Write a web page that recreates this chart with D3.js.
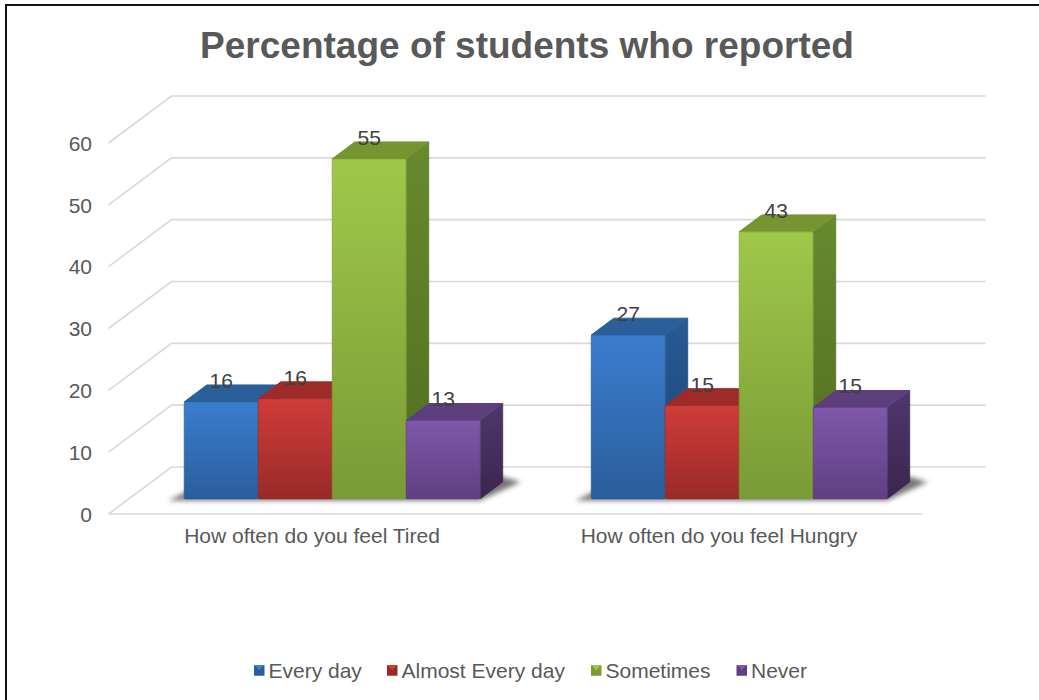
<!DOCTYPE html>
<html>
<head>
<meta charset="utf-8">
<script src="https://cdnjs.cloudflare.com/ajax/libs/d3/7.8.5/d3.min.js"></script>
<style>
  html, body { margin: 0; padding: 0; background: #fff; }
  svg { display: block; }
  text { font-family: "Liberation Sans", Arial, sans-serif; }
</style>
</head>
<body>
<script>
const categories = ["How often do you feel Tired", "How often do you feel Hungry"]
const seriesNames = ["Every day", "Almost Every day", "Sometimes", "Never"]
// one array per series, first value is Tired, second is Hungry
const everyDay = [15.7, 26.5]
const almostEveryDay = [16.2, 15.1]
const sometimes = [55, 43.2]
const never = [12.7, 14.8]
const yTicks = [0, 10, 20, 30, 40, 50, 60]
const titleText = "Percentage of students who reported"

const allSeries = [everyDay, almostEveryDay, sometimes, never]

const w = 1039, h = 700

// colours: front top, front bottom, top face, side top, side bottom
const colors = [
  ["#3b7dce", "#2a5e9c", "#2a5f9a", "#275a94", "#1f4474"],
  ["#d03c39", "#982a28", "#9c2b29", "#9c2b29", "#7a201e"],
  ["#9fc84a", "#7a9a35", "#76942f", "#678a2e", "#526c22"],
  ["#7f58aa", "#5f3f80", "#5d3f7d", "#4f376c", "#3a264f"]
]

// front plane of the chart
const x = d3.scaleBand().domain(categories).range([108.5, 922.5])
const y = d3.scaleLinear().domain([0, 60]).range([514, 143])
// depth goes from the front plane (0) to the back wall (1)
const depthX = d3.scaleLinear().domain([0, 1]).range([0, 63])
const depthY = d3.scaleLinear().domain([0, 1]).range([0, -47])
const barFront = 0.32, barBack = 0.68

const inner = d3.scaleBand().domain(d3.range(4)).range([0, 296])
const groupOffset = (x.bandwidth() - 296) / 2

const svg = d3.select("body").append("svg").attr("width", w).attr("height", h)
const defs = svg.append("defs")

function gradient(id, c1, c2) {
  const g = defs.append("linearGradient").attr("id", id)
    .attr("x1", 0).attr("y1", 0).attr("x2", 0).attr("y2", 1)
  g.append("stop").attr("offset", "0%").attr("stop-color", c1)
  g.append("stop").attr("offset", "100%").attr("stop-color", c2)
}
colors.forEach(function(c, i) {
  gradient("front" + i, c[0], c[1])
  gradient("side" + i, c[3], c[4])
})
defs.append("filter").attr("id", "blur")
  .attr("x", "-10%").attr("y", "-50%").attr("width", "120%").attr("height", "200%")
  .append("feGaussianBlur").attr("stdDeviation", 2.5)

// the frame only has a top and a left edge in the picture
svg.append("path").attr("d", "M6,700V5H" + w)
  .attr("fill", "none").attr("stroke", "#111").attr("stroke-width", 2)

svg.append("text").attr("x", 527).attr("y", 58)
  .attr("text-anchor", "middle")
  .attr("font-size", 37).attr("font-weight", "bold").attr("fill", "#595959")
  .text(titleText)

// grid: diagonal on the side wall + line along the back wall
const gridColor = "#d9d9d9"
const grid = svg.append("g").attr("fill", "none").attr("stroke", gridColor).attr("stroke-width", 1.6)
const x0 = x.range()[0], x1 = x.range()[1]
grid.selectAll("path").data(yTicks).enter().append("path")
  .attr("d", function(d) {
    return d3.line()([
      [x0, y(d)],
      [x0 + depthX(1), y(d) + depthY(1)],
      [x1 + depthX(1), y(d) + depthY(1)]
    ])
  })
grid.append("path").attr("d", d3.line()([[x0, y(0)], [x1, y(0)]]))

// y axis labels, using d3 axis
const yAxis = d3.axisLeft(y).tickValues(yTicks).tickSize(0).tickPadding(16.5)
const yG = svg.append("g").attr("transform", "translate(" + x0 + ",0.5)").call(yAxis)
yG.select(".domain").remove()
yG.selectAll("text").attr("font-size", 21).attr("fill", "#595959")
  .attr("font-family", "Liberation Sans")

// x axis labels
const xAxis = d3.axisBottom(x).tickSize(0).tickPadding(14.5)
const xG = svg.append("g").attr("transform", "translate(0," + y(0) + ")").call(xAxis)
xG.select(".domain").remove()
xG.selectAll("text").attr("font-size", 21).attr("fill", "#595959")
  .attr("font-family", "Liberation Sans")

// bars
const fdx = depthX(barFront), fdy = depthY(barFront)
const bdx = depthX(barBack), bdy = depthY(barBack)

const groups = svg.selectAll(".group").data(categories).enter().append("g").attr("class", "group")

groups.each(function(cat, ci) {
  const g = d3.select(this)
  const left = x(cat) + groupOffset
  const right = left + 296

  // shadow on the floor
  g.append("path")
    .attr("d", d3.line()([
      [left + fdx - 16, y(0) + fdy + 1.5],
      [right + fdx, y(0) + fdy + 1.5],
      [right + bdx + 18, y(0) + bdy],
      [right + bdx - 10, y(0) + bdy - 8],
      [left + bdx, y(0) + bdy]
    ]) + "Z")
    .attr("fill", "#777").attr("filter", "url(#blur)")

  allSeries.forEach(function(vals, si) {
    const v = vals[ci]
    const bx = left + inner(si) + fdx
    const bw = inner.bandwidth()
    const ty = y(v) + fdy
    const by = y(0) + fdy
    const ox = bdx - fdx, oy = bdy - fdy
    const b = g.append("g").attr("stroke-linejoin", "round").attr("stroke-width", 1)

    b.append("path") // side
      .attr("d", d3.line()([[bx + bw, ty], [bx + bw + ox, ty + oy], [bx + bw + ox, by + oy], [bx + bw, by]]) + "Z")
      .attr("fill", "url(#side" + si + ")").attr("stroke", colors[si][4]).attr("stroke-opacity", 0.5)
    b.append("path") // top
      .attr("d", d3.line()([[bx, ty], [bx + ox, ty + oy], [bx + bw + ox, ty + oy], [bx + bw, ty]]) + "Z")
      .attr("fill", colors[si][2]).attr("stroke", colors[si][2])
    b.append("rect") // front
      .attr("x", bx).attr("y", ty).attr("width", bw).attr("height", by - ty)
      .attr("rx", 1.5)
      .attr("fill", "url(#front" + si + ")").attr("stroke", colors[si][1]).attr("stroke-opacity", 0.6)
  })
})

// value labels go on top of all the bars
groups.each(function(cat, ci) {
  const left = x(cat) + groupOffset
  allSeries.forEach(function(vals, si) {
    svg.append("text")
      .attr("x", left + inner(si) + inner.bandwidth() / 2 + fdx)
      .attr("y", y(vals[ci]) + fdy - 14)
      .attr("text-anchor", "middle")
      .attr("font-size", 21).attr("fill", "#404040")
      .text(Math.round(vals[ci]))
  })
})

// legend
const legendX = [254, 387, 591, 736.5]
const legY = 670.5
const leg = svg.selectAll(".legend").data(seriesNames).enter().append("g").attr("class", "legend")
  .attr("transform", function(d, i) { return "translate(" + legendX[i] + "," + legY + ")" })
leg.each(function(d, i) {
  const g = d3.select(this)
  const s = 10.5
  g.append("rect").attr("x", 0).attr("y", -s / 2).attr("width", s).attr("height", s).attr("fill", colors[i][1])
  g.append("path")
    .attr("d", d3.line()([[1, -s / 2], [s - 1, -s / 2], [s / 2, 0]]) + "Z")
    .attr("fill", colors[i][0])
  g.append("text").attr("x", s + 4).attr("y", 7.5)
    .attr("font-size", 21).attr("fill", "#595959").text(d)
})
</script>
</body>
</html>
